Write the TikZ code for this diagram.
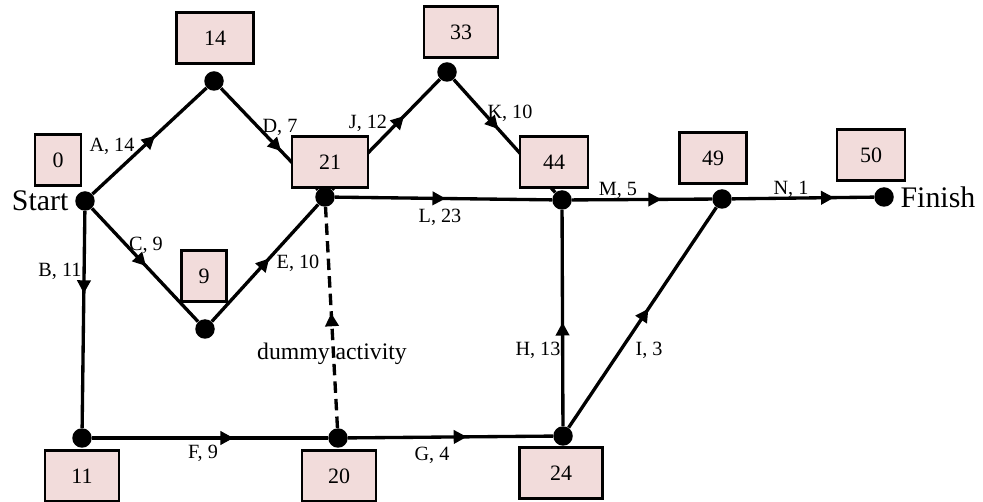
\documentclass[tikz,border=0pt]{standalone}
\usepackage{fontspec}
\setmainfont{Liberation Serif}
\definecolor{boxpink}{HTML}{F2DCDB}
\usetikzlibrary{arrows.meta,decorations.markings,positioning}

\begin{document}
\begin{tikzpicture}[x=0.02cm,y=-0.02cm,
  evt/.style={circle,fill=black,inner sep=0pt,minimum size=0.39cm},
  timebox/.style={draw=black,line width=1.2pt,fill=boxpink,minimum height=1.02cm,inner sep=0pt,font=\fontsize{12.5}{14}\selectfont},
  lbl/.style={font=\fontsize{11.5}{13}\selectfont,inner sep=0pt},
  endlbl/.style={font=\fontsize{17}{19}\selectfont,inner sep=3.5pt},
  act/.style={line width=1.9pt},
  dummyact/.style={act,dash pattern=on 6.5pt off 3.5pt},
  midarrow/.style={postaction={decorate},decoration={markings,mark=at position #1 with {\arrow{Triangle[length=7.5pt,width=7.5pt]}}}}]
  \useasboundingbox (0,0) rectangle (983,502);

  % events
  \node[evt] (start) at (85,201) {};
  \node[evt] (e14) at (214,81) {};
  \node[evt] (e9) at (205,329) {};
  \node[evt] (e21) at (325,197) {};
  \node[evt] (e33) at (447,72) {};
  \node[evt] (e44) at (562,200) {};
  \node[evt] (e49) at (722,199) {};
  \node[evt] (finish) at (884,197) {};
  \node[evt] (e11) at (82,438) {};
  \node[evt] (e20) at (338,438) {};
  \node[evt] (e24) at (563,436) {};

  \node[endlbl,left=0pt of start] (startlbl) {Start};
  \node[endlbl,right=0pt of finish] (finishlbl) {Finish};

  % activities
  \draw[act,midarrow=0.55] (start) -- (e14);
  \draw[act,midarrow=0.62] (e14) -- (e21);
  \draw[act,midarrow=0.67] (e21) -- (e33);
  \draw[act,midarrow=0.44] (e33) -- (e44);
  \draw[act,midarrow=0.51] (e21) -- (e44);
  \draw[act,midarrow=0.64] (e44) -- (e49);
  \draw[act,midarrow=0.72] (e49) -- (finish);
  \draw[act,midarrow=0.51] (start) -- (e9);
  \draw[act,midarrow=0.54] (e9) -- (e21);
  \draw[act,midarrow=0.38] (start) -- (e11);
  \draw[act,midarrow=0.6] (e11) -- (e20);
  \draw[act,midarrow=0.58] (e20) -- (e24);
  \draw[act,midarrow=0.48] (e24) -- (e44);
  \draw[act,midarrow=0.54] (e24) -- (e49);
  \draw[dummyact,midarrow=0.52] (e20) -- (e21);

  % earliest times
  \node[timebox,minimum width=0.92cm] (t0) at (58,160) {0};
  \node[timebox,minimum width=1.54cm] (t14) at (215,38) {14};
  \node[timebox,minimum width=1.52cm] (t21) at (330,162) {21};
  \node[timebox,minimum width=1.48cm] (t33) at (461,32) {33};
  \node[timebox,minimum width=1.36cm] (t44) at (554,162) {44};
  \node[timebox,minimum width=1.34cm] (t49) at (713,158) {49};
  \node[timebox,minimum width=1.36cm] (t50) at (871,155) {50};
  \node[timebox,minimum width=0.9cm] (t9) at (204,276) {9};
  \node[timebox,minimum width=1.48cm] (t11) at (82,476) {11};
  \node[timebox,minimum width=1.48cm] (t20) at (339,476) {20};
  \node[timebox,minimum width=1.66cm] (t24) at (561,473) {24};

  % activity labels
  \node[lbl] (la) at (112,146) {A, 14};
  \node[lbl] (ld) at (280,127) {D, 7};
  \node[lbl] (lj) at (368,123) {J, 12};
  \node[lbl] (lk) at (510,113) {K, 10};
  \node[lbl] (lm) at (618,190) {M, 5};
  \node[lbl] (ln) at (791,189) {N, 1};
  \node[lbl] (ll) at (440,217) {L, 23};
  \node[lbl] (lc) at (146,245) {C, 9};
  \node[lbl] (le) at (298,263) {E, 10};
  \node[lbl] (lb) at (60,271) {B, 11};
  \node[lbl,font=\fontsize{13.5}{15}\selectfont] (ldummy) at (332,354) {dummy activity};
  \node[lbl] (lf) at (203,453) {F, 9};
  \node[lbl] (lg) at (432,455) {G, 4};
  \node[lbl] (lh) at (538,350) {H, 13};
  \node[lbl] (li) at (649,350) {I, 3};
\end{tikzpicture}
\end{document}
